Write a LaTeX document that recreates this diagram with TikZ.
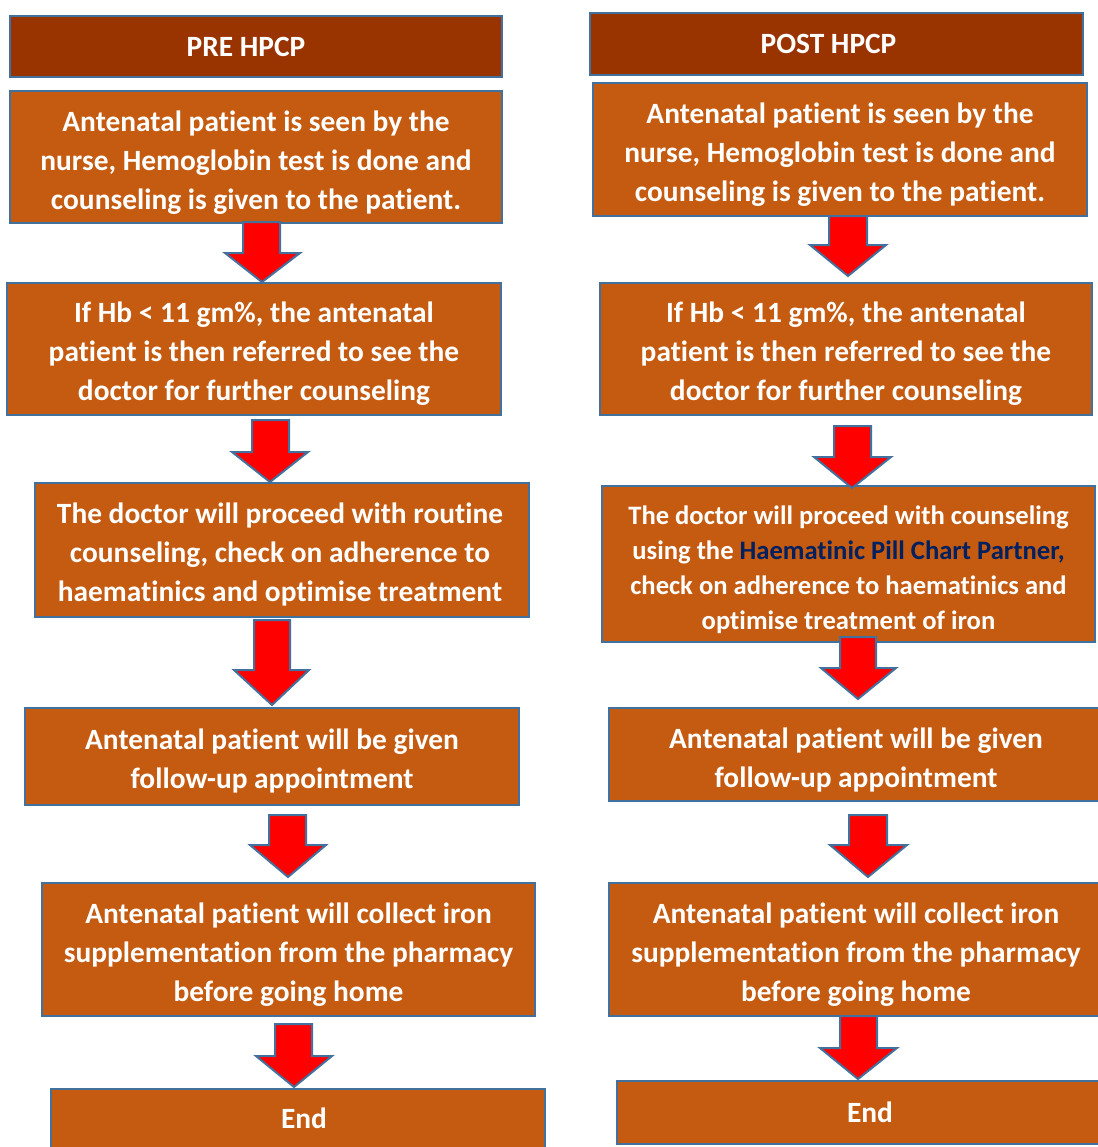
\documentclass[tikz,border=0pt]{standalone}
\usepackage{fontspec}
\setmainfont{Carlito}[Ligatures=NoCommon]
\usetikzlibrary{fit}
\definecolor{boxfill}{HTML}{C55A11}
\definecolor{headfill}{HTML}{993300}
\definecolor{edgeblue}{HTML}{41719C}
\definecolor{navytext}{HTML}{002060}
\tikzset{
  flowbox/.style={draw=edgeblue, fill=boxfill, line width=1.2pt, inner sep=0pt},
  headbox/.style={flowbox, fill=headfill},
  lbl/.style={inner sep=0pt, text=white, align=center,
    font=\bfseries\fontsize{14.7}{19.5}\selectfont},
  smalllbl/.style={lbl, font=\bfseries\fontsize{13.3}{17.5}\selectfont},
  blockarr/.style={draw=edgeblue, fill=red, line width=1pt, line join=miter}
}
% shaft-left, shaft-right, top, shoulder, head-left, head-right, tip-x, tip-y
\newcommand\blockarrow[8]{%
  \draw[blockarr] (#1,#3) -- (#2,#3) -- (#2,#4) -- (#6,#4) -- (#7,#8) -- (#5,#4) -- (#1,#4) -- cycle;}
\begin{document}
\begin{tikzpicture}[x=0.5pt,y=-0.5pt]
\useasboundingbox (0,0) rectangle (1098,1147);
% ---------- left column (PRE) ----------
\node[headbox, fit={(10,16) (502,77)}] (hL) {};
\node[flowbox, fit={(10,91) (502,223)}] (b1L) {};
\node[flowbox, fit={(7,283) (501,415)}] (b2L) {};
\node[flowbox, fit={(35,483) (529,617)}] (b3L) {};
\node[flowbox, fit={(25,708) (519,805)}] (b4L) {};
\node[flowbox, fit={(42,883) (535,1016)}] (b5L) {};
\node[flowbox, fit={(51,1089) (545,1148)}] (eL) {};
\node[lbl] (thL) at ([xshift=-5pt]hL.center) {PRE HPCP};
\node[lbl] (t1L) at ([yshift=-2.6pt]b1L.center) {Antenatal patient is seen by the\\nurse, Hemoglobin test is done and\\counseling is given to the patient.};
\node[lbl] (t2L) at ([yshift=-2.4pt]b2L.center) {If Hb < 11 gm\%, the antenatal\\patient is then referred to see the\\doctor for further counseling};
\node[lbl] (t3L) at ([xshift=-1pt,yshift=-2.4pt]b3L.center) {The doctor will proceed with routine\\counseling, check on adherence to\\haematinics and optimise treatment};
\node[lbl] (t4L) at ([yshift=-2pt]b4L.center) {Antenatal patient will be given\\follow-up appointment};
\node[lbl] (t5L) at ([yshift=-2.6pt]b5L.center) {Antenatal patient will collect iron\\supplementation from the pharmacy\\before going home};
\node[lbl] (teL) at ([xshift=3pt]eL.center) {End};
% ---------- right column (POST) ----------
\node[headbox, fit={(590,13) (1083,75)}] (hR) {};
\node[flowbox, fit={(593,83) (1087,216)}] (b1R) {};
\node[flowbox, fit={(600,283) (1092,415)}] (b2R) {};
\node[flowbox, fit={(602,486) (1095,642)}] (b3R) {};
\node[flowbox, fit={(609,708) (1103,801)}] (b4R) {};
\node[flowbox, fit={(609,883) (1103,1016)}] (b5R) {};
\node[flowbox, fit={(617,1081) (1123,1144)}] (eR) {};
\node[lbl] (thR) at ([xshift=-4pt]hR.center) {POST HPCP};
\node[lbl] (t1R) at ([yshift=-2.6pt]b1R.center) {Antenatal patient is seen by the\\nurse, Hemoglobin test is done and\\counseling is given to the patient.};
\node[lbl] (t2R) at ([yshift=-2.4pt]b2R.center) {If Hb < 11 gm\%, the antenatal\\patient is then referred to see the\\doctor for further counseling};
\node[smalllbl] (t3R) at ([yshift=-3pt]b3R.center) {The doctor will proceed with counseling\\using the \textcolor{navytext}{Haematinic Pill Chart Partner,}\\check on adherence to haematinics and\\optimise treatment of iron};
\node[lbl] (t4R) at ([yshift=-2.6pt]b4R.center) {Antenatal patient will be given\\follow-up appointment};
\node[lbl] (t5R) at ([yshift=-2.6pt]b5R.center) {Antenatal patient will collect iron\\supplementation from the pharmacy\\before going home};
\node[lbl] (teR) at (eR.center) {End};
% ---------- arrows ----------
\blockarrow{243}{280}{222}{253}{225}{300}{262}{282}
\blockarrow{252}{289}{420}{452}{232}{308}{270}{482}
\blockarrow{254}{290}{620}{670}{234}{309}{272}{705}
\blockarrow{269}{306}{815}{845}{250}{326}{288}{877}
\blockarrow{275}{312}{1024}{1056}{256}{332}{294}{1087}
\blockarrow{829}{867}{216}{245}{810}{886}{848}{276}
\blockarrow{834}{871}{426}{457}{814}{891}{852}{488}
\blockarrow{840}{876}{637}{668}{821}{896}{858}{699}
\blockarrow{849}{887}{815}{845}{830}{907}{868}{877}
\blockarrow{840}{877}{1016}{1048}{820}{897}{858}{1079}
\end{tikzpicture}
\end{document}
